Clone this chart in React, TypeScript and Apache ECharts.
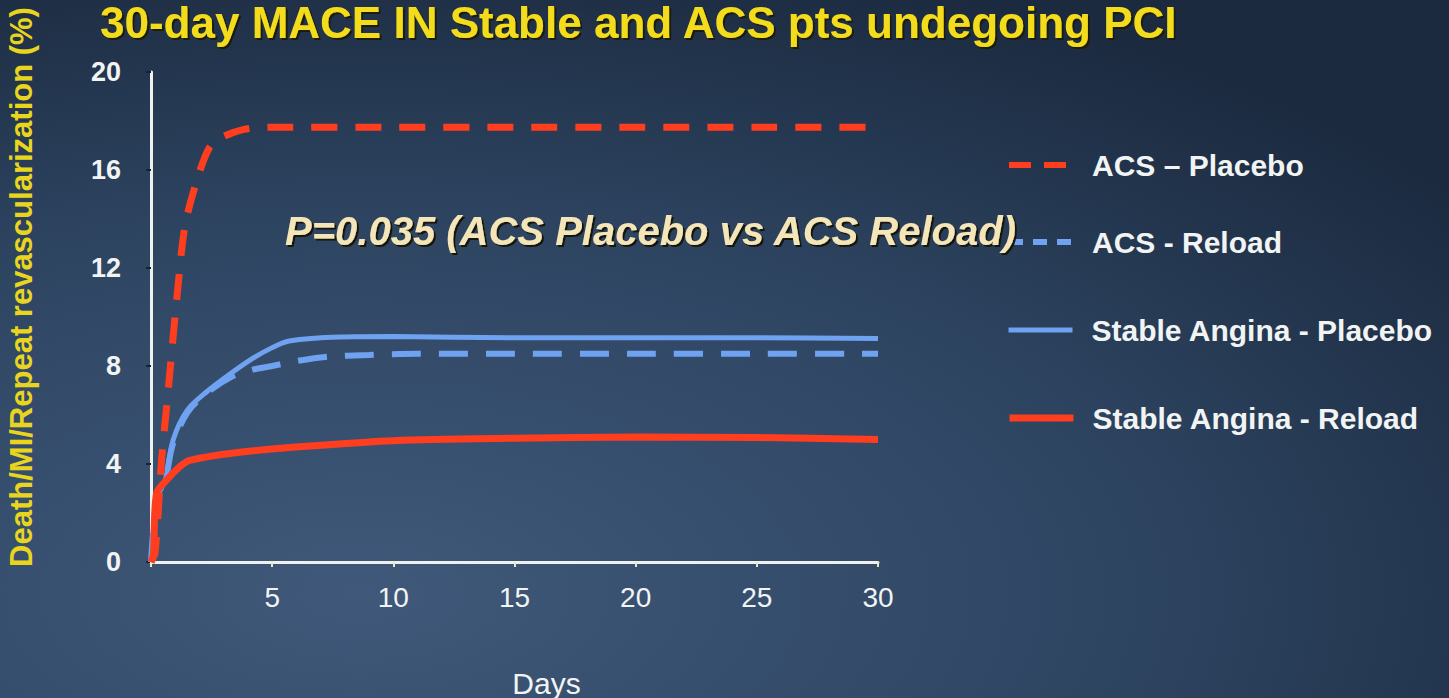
import React, { useEffect, useRef } from "react";
import * as echarts from "echarts";

// ---- Data ----
const titleText = "30-day MACE IN Stable and ACS pts undegoing PCI";
const yAxisTitle = "Death/MI/Repeat revascularization (%)";
const xAxisTitle = "Days";
const pValueNote = "P=0.035 (ACS Placebo vs ACS Reload)";

const seriesNames = [
  "ACS – Placebo",
  "ACS - Reload",
  "Stable Angina - Placebo",
  "Stable Angina - Reload",
];

const acsPlaceboDays = [0, 0.17, 0.44, 0.7, 1.06, 1.4, 1.9, 2.4, 2.85, 3.8, 5, 10, 15, 20, 25, 29.5];
const acsPlaceboVals = [0, 0.4, 4.2, 6.9, 10.7, 13.7, 15.6, 16.9, 17.3, 17.65, 17.75, 17.75, 17.75, 17.75, 17.75, 17.75];

const acsReloadDays = [0, 0.25, 0.58, 0.9, 1.5, 2.3, 3.3, 4.2, 5.0, 6.0, 7.2, 9.0, 11, 15, 20, 25, 30];
const acsReloadVals = [0, 2.7, 3.3, 4.8, 6.1, 6.9, 7.55, 7.85, 8.0, 8.2, 8.37, 8.45, 8.5, 8.5, 8.5, 8.5, 8.5];

const saPlaceboDays = [0, 0.25, 0.58, 0.92, 1.5, 2.3, 3.3, 4.1, 5.0, 5.7, 7.8, 10, 15, 20, 25, 30];
const saPlaceboVals = [0, 2.7, 3.3, 5.0, 6.2, 6.95, 7.7, 8.25, 8.75, 9.02, 9.18, 9.2, 9.15, 9.15, 9.15, 9.12];

const saReloadDays = [0, 0.1, 0.23, 0.65, 1.2, 1.6, 3.4, 6.1, 10, 15, 20, 25, 30];
const saReloadVals = [0, 0.3, 2.8, 3.35, 3.9, 4.15, 4.45, 4.7, 4.95, 5.05, 5.1, 5.08, 5.0];

const xTicks = { min: 0, max: 30, interval: 5 };
const yTicks = { min: 0, max: 20, interval: 4 };

const RED = "#ff3d1f";
const BLUE = "#6fa2f0";
const FONT = "'Liberation Sans', Arial, sans-serif";

const pair = (xs: number[], ys: number[]) => xs.map((x, i) => [x, ys[i]]);

export default function App() {
  const ref = useRef<HTMLDivElement>(null);

  useEffect(() => {
    document.body.style.margin = "0";
    const chart = echarts.init(ref.current!, null, { renderer: "svg" });

    const legendRow = (name: string, top: number, lineStyle: any) => ({
      data: [name],
      left: 1006,
      top,
      padding: 0,
      itemWidth: 64,
      itemHeight: 8,
      selectedMode: false,
      itemStyle: { opacity: 0 },
      lineStyle,
      textStyle: {
        color: "#f2f4f4",
        fontSize: 30,
        fontWeight: "bold",
        fontFamily: FONT,
        lineHeight: 32,
        padding: [0, 0, 0, 14],
      },
    });

    chart.setOption({
      animation: false,
      backgroundColor: new echarts.graphic.RadialGradient(0.25, 0.85, 0.95, [
        { offset: 0, color: "#40597a" },
        { offset: 0.55, color: "#2e4562" },
        { offset: 1, color: "#1b2a3f" },
      ]),
      title: {
        text: titleText,
        left: 100,
        top: 0,
        padding: 0,
        textStyle: {
          color: "#f3dc1c",
          fontSize: 44,
          lineHeight: 44,
          fontWeight: "bold",
          fontFamily: FONT,
          textShadowColor: "#1a1a10",
          textShadowOffsetX: 2,
          textShadowOffsetY: 2,
          textShadowBlur: 1,
        },
      },
      legend: [
        legendRow(seriesNames[0], 149, { width: 6, type: [22, 13], color: RED }),
        legendRow(seriesNames[1], 226, { width: 6, type: [14, 10], color: BLUE }),
        legendRow(seriesNames[2], 314, { width: 5, color: BLUE }),
        legendRow(seriesNames[3], 402, { width: 7, color: RED }),
      ],
      grid: { left: 151, right: 571, top: 72, bottom: 136, outerBoundsMode: "none" },
      xAxis: {
        type: "value",
        min: xTicks.min,
        max: xTicks.max,
        interval: xTicks.interval,
        name: xAxisTitle,
        nameLocation: "middle",
        nameGap: 108,
        nameTextStyle: {
          color: "#f2f4f4",
          fontSize: 30,
          lineHeight: 26,
          fontFamily: FONT,
          padding: [0, 0, 0, 64],
        },
        splitLine: { show: false },
        axisLine: { lineStyle: { color: "#eef2ee", width: 3 } },
        axisTick: { show: true, length: 5, lineStyle: { color: "#e6ecc0", width: 2 } },
        axisLabel: {
          color: "#f2f4f4",
          fontSize: 28,
          fontFamily: FONT,
          margin: 21,
          formatter: (v: number) => (v === 0 ? "" : String(v)),
        },
      },
      yAxis: {
        type: "value",
        min: yTicks.min,
        max: yTicks.max,
        interval: yTicks.interval,
        name: yAxisTitle,
        nameLocation: "middle",
        nameGap: 114,
        nameTextStyle: {
          color: "#e9d51e",
          fontSize: 31,
          fontWeight: "bold",
          fontFamily: FONT,
          padding: [0, 0, 0, 60],
        },
        splitLine: { show: false },
        axisLine: { show: true, lineStyle: { color: "#eef2ee", width: 3 } },
        axisTick: { show: true, length: 5, lineStyle: { color: "#16222f", width: 2 } },
        axisLabel: {
          color: "#f2f4f4",
          fontSize: 27,
          fontWeight: "bold",
          fontFamily: FONT,
          margin: 30,
        },
      },
      graphic: [
        {
          type: "text",
          left: 285,
          top: 211,
          z: 10,
          style: {
            text: pValueNote,
            fill: "#f4e6b8",
            fontSize: 40,
            fontWeight: "bold",
            fontStyle: "italic",
            fontFamily: FONT,
            textShadowColor: "#151510",
            textShadowOffsetX: 2,
            textShadowOffsetY: 2,
            textShadowBlur: 1,
          },
        },
      ],
      series: [
        {
          name: seriesNames[2],
          type: "line",
          smooth: 0.3,
          symbol: "none",
          data: pair(saPlaceboDays, saPlaceboVals),
          lineStyle: { color: BLUE, width: 5 },
          itemStyle: { color: BLUE },
        },
        {
          name: seriesNames[1],
          type: "line",
          smooth: 0.3,
          symbol: "none",
          data: pair(acsReloadDays, acsReloadVals),
          lineStyle: { color: BLUE, width: 6, type: [29, 18] },
          itemStyle: { color: BLUE },
        },
        {
          name: seriesNames[0],
          type: "line",
          smooth: 0.3,
          symbol: "none",
          data: pair(acsPlaceboDays, acsPlaceboVals),
          lineStyle: { color: RED, width: 7, type: [26, 18] },
          itemStyle: { color: RED },
        },
        {
          name: seriesNames[3],
          type: "line",
          smooth: 0.3,
          symbol: "none",
          data: pair(saReloadDays, saReloadVals),
          lineStyle: { color: RED, width: 7 },
          itemStyle: { color: RED },
        },
      ],
    });

    return () => chart.dispose();
  }, []);

  return (
    <div
      ref={ref}
      style={{ position: "absolute", left: 0, top: 0, width: 1449, height: 698 }}
    />
  );
}
